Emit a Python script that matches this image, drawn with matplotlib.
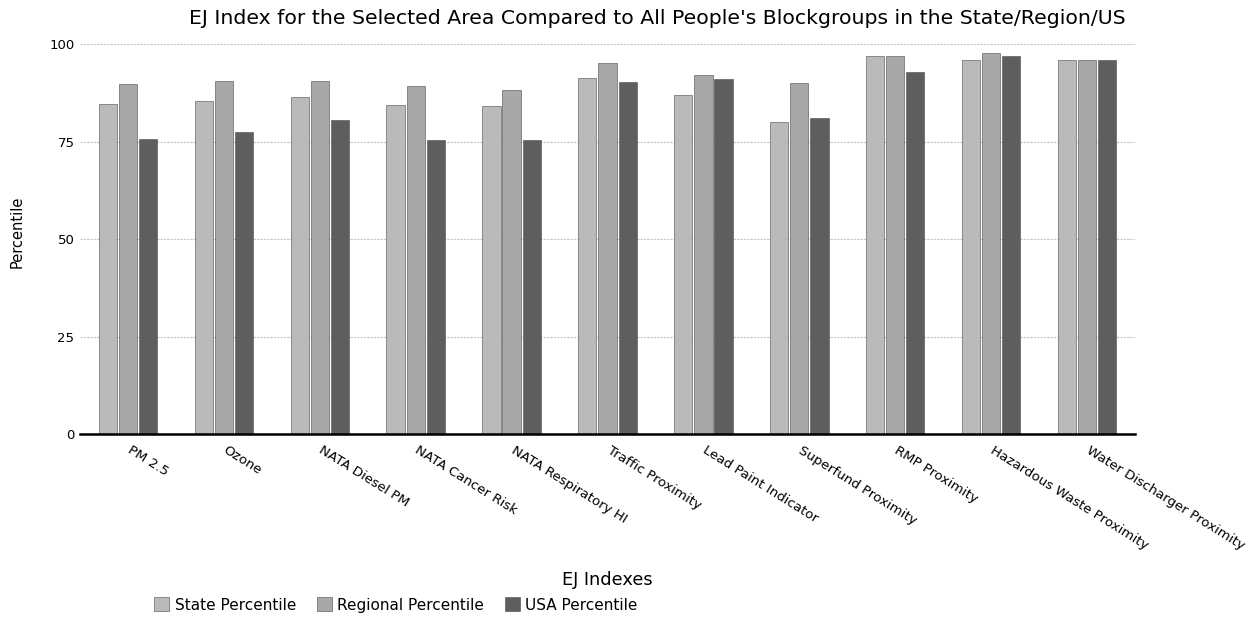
import numpy as np
import matplotlib.pyplot as plt
import matplotlib.transforms as mtransforms

# dados
indices = ["PM 2.5", "Ozone", "NATA Diesel PM", "NATA Cancer Risk",
           "NATA Respiratory HI", "Traffic Proximity", "Lead Paint Indicator",
           "Superfund Proximity", "RMP Proximity", "Hazardous Waste Proximity",
           "Water Discharger Proximity"]
estadual = [84.7, 85.5, 86.3, 84.3, 84.2, 91.2, 87.0, 80.1, 97.0, 95.9, 95.9]
regional = [89.7, 90.5, 90.5, 89.2, 88.2, 95.1, 92.1, 90.1, 96.9, 97.8, 95.9]
eua = [75.6, 77.4, 80.4, 75.3, 75.3, 90.2, 91.0, 80.9, 92.9, 96.9, 95.9]
series = ["State Percentile", "Regional Percentile", "USA Percentile"]
cores = ["#bababa", "#a8a8a8", "#5e5e5e"]

plt.rcParams['font.family'] = ['DejaVu Sans']

fig = plt.figure(figsize=(12.54, 6.18), dpi=100)
ax = fig.add_axes([0.0638, 0.2977, 0.8413, 0.6311])

x = np.arange(len(indices))
larg = 0.19
passo = 0.21
for k, (vals, nome, cor) in enumerate(zip([estadual, regional, eua], series, cores)):
    ax.bar(x + (k - 1) * passo, vals, width=larg, color=cor, edgecolor="#4a4a4a",
           linewidth=0.4, label=nome, zorder=3)

ax.set_xlim(-0.5, len(indices) - 0.5)
ax.set_ylim(0, 100)
ax.set_yticks([0, 25, 50, 75, 100])
ax.yaxis.grid(True, color="#c4c4c4", linestyle=(0, (2, 1)), linewidth=0.8, zorder=0)
for lado in ["top", "right", "left"]:
    ax.spines[lado].set_visible(False)
ax.spines["bottom"].set_linewidth(1.8)
ax.spines["bottom"].set_zorder(4)
ax.tick_params(axis="y", length=0, labelsize=9.5, pad=4)
ax.tick_params(axis="x", length=0, labelsize=9.6, pad=7)
ax.set_xticks(x)
ax.set_xticklabels(indices, rotation=-32, ha="left", va="top", rotation_mode="anchor")
# desloca os rotulos um pouco para a direita
desloc = mtransforms.ScaledTranslation(4 / 100, 0, fig.dpi_scale_trans)
for rot in ax.get_xticklabels():
    rot.set_transform(rot.get_transform() + desloc)

fig.text(17 / 1254, 1 - 232 / 618, "Percentile", rotation=90, ha="center", va="center", fontsize=10.5)
fig.text(657 / 1254, 1 - 18 / 618, "EJ Index for the Selected Area Compared to All People's Blockgroups in the State/Region/US",
         ha="center", va="center", fontsize=14.7)
fig.text(607 / 1254, 1 - 580 / 618, "EJ Indexes", ha="center", va="center", fontsize=12.8)

fig.legend(loc="center left", bbox_to_anchor=(154 / 1254, 1 - 605 / 618), ncol=3, frameon=False,
           fontsize=11, handlelength=1.0, handleheight=1.0, handletextpad=0.35,
           columnspacing=1.35, borderaxespad=0, borderpad=0)

fig.savefig("out.png", dpi=100)
